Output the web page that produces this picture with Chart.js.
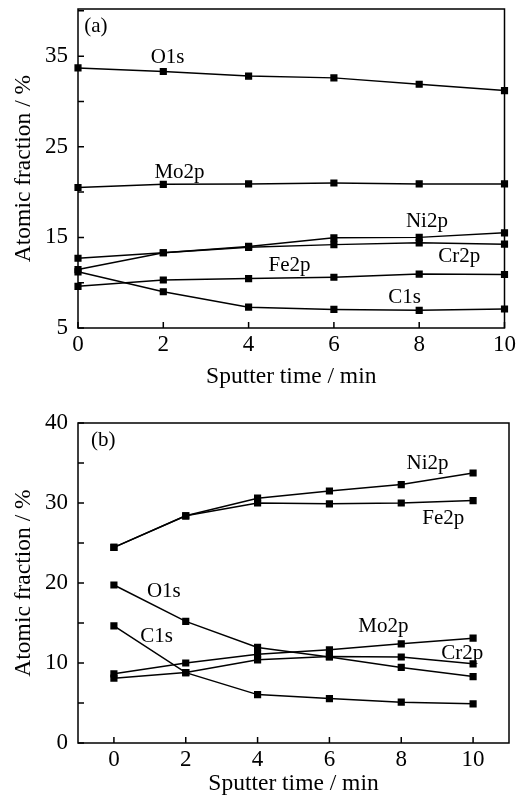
<!DOCTYPE html>
<html>
<head>
<meta charset="utf-8">
<script src="https://cdn.jsdelivr.net/npm/chart.js@4"></script>
<style>
  body { margin: 0; background: #fff; }
  .box { position: relative; width: 519px; }
</style>
</head>
<body>
<div class="box" style="height:400px"><canvas id="chartA" width="519" height="400"></canvas></div>
<div class="box" style="height:407px"><canvas id="chartB" width="519" height="407"></canvas></div>
<script>
// Data
const timeMin = [0, 2, 4, 6, 8, 10];

// (a)
const o1sA = [33.7, 33.3, 32.8, 32.6, 31.9, 31.2];
const mo2pA = [20.5, 20.85, 20.9, 21.0, 20.9, 20.9];
const ni2pA = [12.7, 13.3, 14.0, 14.95, 15.0, 15.5];
const cr2pA = [11.45, 13.3, 13.9, 14.2, 14.4, 14.25];
const fe2pA = [9.6, 10.3, 10.45, 10.6, 10.95, 10.9];
const c1sA = [11.2, 9.0, 7.3, 7.05, 6.95, 7.1];

// (b)
const ni2pB = [24.45, 28.4, 30.6, 31.5, 32.3, 33.75];
const fe2pB = [24.45, 28.4, 30.0, 29.9, 30.0, 30.3];
const o1sB = [19.75, 15.2, 11.95, 10.75, 9.45, 8.3];
const c1sB = [14.65, 8.8, 6.05, 5.55, 5.1, 4.9];
const mo2pB = [8.65, 10.0, 11.1, 11.65, 12.4, 13.1];
const cr2pB = [8.1, 8.8, 10.4, 10.8, 10.75, 9.9];

const yTicksA = [5, 15, 25, 35];
const yTicksB = [0, 10, 20, 30, 40];
const xTicks = [0, 2, 4, 6, 8, 10];

const serif = "'Liberation Serif', 'DejaVu Serif', serif";

function series(values) {
    return {
        data: timeMin.map((t, i) => ({x: t, y: values[i]})),
        borderColor: '#000',
        backgroundColor: '#000',
        borderWidth: 1.5,
        pointStyle: 'rect',
        pointRadius: 4,
        clip: false
    };
}

// frame, inward ticks and curve labels
const frameTicks = {
    id: 'frameTicks',
    afterDatasetsDraw(chart, args, opts) {
        const {ctx, chartArea: a, scales: {x, y}} = chart;
        ctx.save();
        ctx.strokeStyle = '#000';
        ctx.lineWidth = 1.5;
        ctx.strokeRect(a.left, a.top, a.right - a.left, a.bottom - a.top);
        ctx.beginPath();
        for (let v = opts.yFrom; v <= opts.yTo + 1e-9; v += opts.yStep) {
            const py = y.getPixelForValue(v);
            ctx.moveTo(a.left, py);
            ctx.lineTo(a.left + 6, py);
        }
        for (let v of xTicks) {
            const px = x.getPixelForValue(v);
            ctx.moveTo(px, a.bottom);
            ctx.lineTo(px, a.bottom - 6);
        }
        ctx.stroke();
        ctx.fillStyle = '#000';
        ctx.font = '21px ' + serif;
        ctx.textAlign = 'center';
        ctx.textBaseline = 'middle';
        for (let lab of opts.labels) {
            ctx.fillText(lab.text, x.getPixelForValue(lab.x), y.getPixelForValue(lab.y));
        }
        ctx.restore();
    }
};

function makeChart(id, sets, xMin, xMax, yMin, yMax, yTicks, pad, xHeight, xTitlePad, xTickPad, plug) {
    return new Chart(document.getElementById(id), {
        type: 'line',
        data: {datasets: sets.map(series)},
        options: {
            responsive: false,
            animation: false,
            layout: {padding: pad},
            plugins: {
                legend: {display: false},
                tooltip: {enabled: false},
                frameTicks: plug
            },
            scales: {
                x: {
                    type: 'linear',
                    min: xMin,
                    max: xMax,
                    afterBuildTicks: (s) => { s.ticks = xTicks.map(v => ({value: v})); },
                    afterFit: (s) => { s.height = xHeight; },
                    grid: {display: false, drawTicks: false},
                    border: {display: false},
                    ticks: {color: '#000', padding: xTickPad, maxRotation: 0, font: {family: serif, size: 23}},
                    title: {display: true, text: 'Sputter time / min', color: '#000',
                        padding: {bottom: xTitlePad}, font: {family: serif, size: 23.5}}
                },
                y: {
                    min: yMin,
                    max: yMax,
                    afterBuildTicks: (s) => { s.ticks = yTicks.map(v => ({value: v})); },
                    afterFit: (s) => { s.width = 78; s.paddingTop = 0; s.paddingBottom = 0; },
                    grid: {display: false, drawTicks: false},
                    border: {display: false},
                    ticks: {color: '#000', padding: 10, font: {family: serif, size: 23}},
                    title: {display: true, text: 'Atomic fraction / %', color: '#000',
                        padding: {top: 10}, font: {family: serif, size: 23.5}}
                }
            }
        },
        plugins: [frameTicks]
    });
}

makeChart('chartA', [o1sA, mo2pA, ni2pA, cr2pA, fe2pA, c1sA], 0, 10, 5, 40.2, yTicksA,
    {top: 9, right: 12, left: 0, bottom: 0}, 72, 9, 3,
    {yFrom: 5, yTo: 40, yStep: 5, labels: [
        {text: '(a)', x: 0.42, y: 38.3},
        {text: 'O1s', x: 2.1, y: 34.9},
        {text: 'Mo2p', x: 2.38, y: 22.2},
        {text: 'Ni2p', x: 8.18, y: 16.7},
        {text: 'Cr2p', x: 8.94, y: 12.85},
        {text: 'Fe2p', x: 4.96, y: 11.9},
        {text: 'C1s', x: 7.66, y: 8.4}
    ]});

makeChart('chartB', [ni2pB, fe2pB, o1sB, c1sB, mo2pB, cr2pB], -1, 11, 0, 40, yTicksB,
    {top: 23, right: 10, left: 0, bottom: 0}, 64, 9, 3,
    {yFrom: 0, yTo: 40, yStep: 5, labels: [
        {text: '(b)', x: -0.3, y: 37.8},
        {text: 'Ni2p', x: 8.73, y: 35.0},
        {text: 'Fe2p', x: 9.17, y: 28.1},
        {text: 'O1s', x: 1.39, y: 19.0},
        {text: 'C1s', x: 1.19, y: 13.3},
        {text: 'Mo2p', x: 7.5, y: 14.6},
        {text: 'Cr2p', x: 9.7, y: 11.25}
    ]});
</script>
</body>
</html>
